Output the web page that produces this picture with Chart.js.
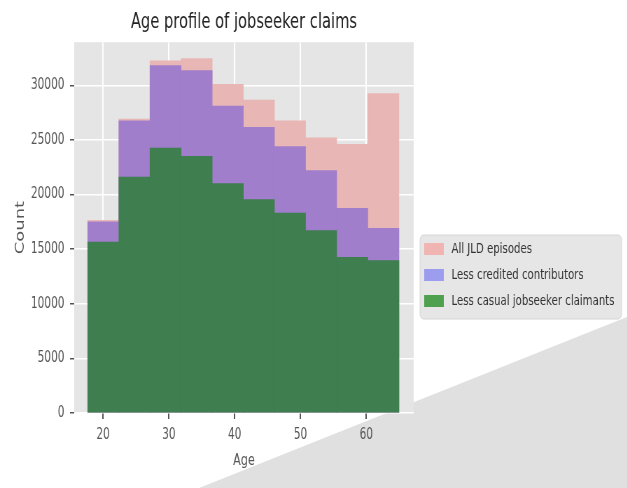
<!DOCTYPE html>
<html>
<head>
<meta charset="utf-8">
<script src="https://cdn.jsdelivr.net/npm/chart.js@4"></script>
<style>
  html, body { margin: 0; padding: 0; background: #fff; overflow: hidden; }
  #wrap { position: relative; width: 627px; height: 488px; }
  #wedge {
    position: absolute; left: 0; top: 0; width: 627px; height: 488px;
    background: #e0e0e0;
    clip-path: polygon(627px 317px, 627px 488px, 199px 488px);
  }
  #ageChart { position: absolute; left: 0; top: 0; transform: scaleX(0.7); transform-origin: 0 0; }
</style>
</head>
<body>
<div id="wrap">
  <div id="wedge"></div>
  <canvas id="ageChart" width="896" height="488"></canvas>
</div>
<script>
/* --------- DATA --------- */
const binCentres = [20.02, 24.75, 29.48, 34.21, 38.94, 43.67, 48.40, 53.13, 57.86, 62.59];
const allEpisodes = [17650, 26900, 32250, 32450, 30100, 28650, 26750, 25200, 24600, 29250];
const lessCredited = [17500, 26750, 31800, 31350, 28100, 26150, 24400, 22200, 18750, 16900];
const lessCasual = [15650, 21600, 24250, 23500, 21000, 19550, 18300, 16700, 14250, 13950];
const seriesNames = ["All JLD episodes", "Less credited contributors", "Less casual jobseeker claimants"];
const xTicks = [20, 30, 40, 50, 60];
const yTicks = [0, 5000, 10000, 15000, 20000, 25000, 30000];

const barColours = ["#e8b6b4", "#a07ecb", "#3f7e4f"];
const legendColours = ["#f0b4b2", "#9d9df0", "#4fa04f"];

const toPoints = vals => vals.map((v, i) => ({ x: binCentres[i], y: v }));

/* --------- PLUGINS --------- */
const plotBg = {
  id: "plotBg",
  beforeDraw(chart) {
    const { ctx, chartArea: a } = chart;
    ctx.save();
    ctx.fillStyle = "#e5e5e5";
    ctx.fillRect(a.left, a.top, a.right - a.left, a.bottom - a.top);
    ctx.restore();
  }
};

const boxLegend = {
  id: "boxLegend",
  afterDraw(chart) {
    const ctx = chart.ctx;
    ctx.save();
    ctx.fillStyle = "#e6e6e6";
    ctx.strokeStyle = "#d6d6d6";
    ctx.lineWidth = 1;
    ctx.beginPath();
    ctx.roundRect(600, 235, 288, 84, 5);
    ctx.fill();
    ctx.stroke();
    ctx.font = '14.5px "DejaVu Sans"';
    ctx.textBaseline = "middle";
    chart.data.datasets.forEach((ds, i) => {
      const cy = 249 + i * 26;
      ctx.fillStyle = legendColours[i];
      ctx.fillRect(606, cy - 6, 28, 12);
      ctx.fillStyle = "#333";
      ctx.fillText(ds.label, 645, cy);
    });
    ctx.restore();
  }
};

/* --------- CHART --------- */
const tickFont = { family: "DejaVu Sans", size: 15 };

new Chart(document.getElementById("ageChart"), {
  type: "bar",
  data: {
    datasets: [
      { label: seriesNames[0], data: toPoints(allEpisodes), backgroundColor: barColours[0], order: 3 },
      { label: seriesNames[1], data: toPoints(lessCredited), backgroundColor: barColours[1], order: 2 },
      { label: seriesNames[2], data: toPoints(lessCasual), backgroundColor: barColours[2], order: 1 }
    ]
  },
  options: {
    responsive: false,
    animation: false,
    devicePixelRatio: 1,
    layout: { padding: { top: 0, right: 305, left: 0, bottom: 0 } },
    datasets: {
      bar: { grouped: false, barPercentage: 1, categoryPercentage: 1, borderWidth: 0 }
    },
    plugins: {
      legend: { display: false },
      tooltip: { enabled: false },
      title: {
        display: true,
        fullSize: false,
        text: "Age profile of jobseeker claims",
        color: "#222",
        font: { family: "DejaVu Sans", size: 21, weight: "normal" },
        padding: { top: 10, bottom: 7 }
      }
    },
    scales: {
      x: {
        type: "linear",
        offset: false,
        min: 15.6,
        max: 67.2,
        afterBuildTicks: s => { s.ticks = xTicks.map(v => ({ value: v })); },
        afterFit: s => { s.height = 75; },
        ticks: { color: "#555", font: tickFont, padding: 7, maxRotation: 0, autoSkip: false },
        grid: { offset: false, color: "#ffffff", lineWidth: 2, tickColor: "#555", tickLength: 6 },
        border: { display: false },
        title: {
          display: true,
          text: "Age",
          color: "#555",
          font: { family: "DejaVu Sans", size: 16 },
          padding: { top: 0, bottom: 18 }
        }
      },
      y: {
        min: 0,
        max: 33950,
        afterBuildTicks: s => { s.ticks = yTicks.map(v => ({ value: v })); },
        afterFit: s => { s.width = 106; },
        ticks: { color: "#555", font: tickFont, padding: 8, callback: v => String(v) },
        grid: { color: "#ffffff", lineWidth: 1.5, tickColor: "#555", tickLength: 6 },
        border: { display: false },
        title: {
          display: true,
          text: "Count",
          color: "#555",
          font: { family: "DejaVu Sans", size: 18 },
          padding: { top: 19, bottom: 0 }
        }
      }
    }
  },
  plugins: [plotBg, boxLegend]
});
</script>
</body>
</html>
